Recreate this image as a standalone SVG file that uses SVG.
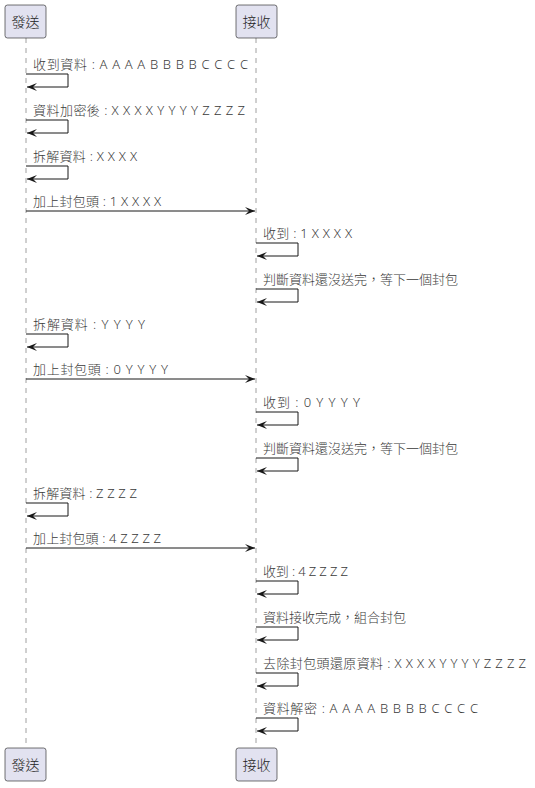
<svg xmlns="http://www.w3.org/2000/svg" width="535" height="788" viewBox="0 0 535 788">
  <style>
    .bg { fill: #FFFFFF; }
    .life { stroke: #A0A0A0; stroke-width: 1; stroke-dasharray: 5,5; fill: none; }
    .box { fill: #E2E2F0; stroke: #181818; stroke-width: 0.6; }
    .pname { font-family: "Noto Sans", "Noto Sans CJK TC", sans-serif; font-size: 14px; font-weight: 300; fill: #222; text-anchor: middle; }
    .msg { stroke: #181818; stroke-width: 1; fill: none; marker-end: url(#arrowhead); }
    .lbl { font-family: "Noto Sans", "Noto Sans CJK TC", sans-serif; font-size: 13px; font-weight: 300; fill: #3a3a3a; }
  </style>
  <defs>
    <marker id="arrowhead" markerUnits="userSpaceOnUse" markerWidth="10" markerHeight="8" refX="10" refY="4" orient="auto">
      <path d="M0,0 L10,4 L0,8 L4,4 Z" fill="#181818"/>
    </marker>
  </defs>
  <rect class="bg" x="0" y="0" width="535" height="788"/>

  <!-- lifelines -->
  <g id="lifelines">
    <line class="life" x1="26" y1="38" x2="26" y2="748"/>
    <line class="life" x1="256" y1="38" x2="256" y2="748"/>
  </g>

  <!-- participants -->
  <g id="sender-top">
    <rect class="box" x="5" y="5" width="41" height="33" rx="2.5"/>
    <text class="pname" x="25.5" y="27" lang="zh-Hant-TW">發送</text>
  </g>
  <g id="receiver-top">
    <rect class="box" x="236" y="5" width="41" height="33" rx="2.5"/>
    <text class="pname" x="256.5" y="27" lang="zh-Hant-TW">接收</text>
  </g>
  <g id="sender-bottom">
    <rect class="box" x="5" y="748" width="41" height="33" rx="2.5"/>
    <text class="pname" x="25.5" y="770" lang="zh-Hant-TW">發送</text>
  </g>
  <g id="receiver-bottom">
    <rect class="box" x="236" y="748" width="41" height="33" rx="2.5"/>
    <text class="pname" x="256.5" y="770" lang="zh-Hant-TW">接收</text>
  </g>

  <!-- messages -->
  <g id="connectors">
    <path class="msg" d="M26,74 H68 V87 H27"/>
    <path class="msg" d="M26,120 H68 V133 H27"/>
    <path class="msg" d="M26,166 H68 V179 H27"/>
    <path class="msg" d="M26,211 H255"/>
    <path class="msg" d="M256,243 H298 V256 H257"/>
    <path class="msg" d="M256,289 H298 V302 H257"/>
    <path class="msg" d="M26,334 H68 V347 H27"/>
    <path class="msg" d="M26,379 H255"/>
    <path class="msg" d="M256,412 H298 V425 H257"/>
    <path class="msg" d="M256,458 H298 V471 H257"/>
    <path class="msg" d="M26,503 H68 V516 H27"/>
    <path class="msg" d="M26,548 H255"/>
    <path class="msg" d="M256,581 H298 V594 H257"/>
    <path class="msg" d="M256,627 H298 V640 H257"/>
    <path class="msg" d="M256,673 H298 V686 H257"/>
    <path class="msg" d="M256,718 H298 V731 H257"/>
  </g>

  <!-- message labels -->
  <g id="labels" lang="zh-Hant-TW">
    <text class="lbl" x="33" y="69" textLength="215" lengthAdjust="spacing">收到資料 : A A A A B B B B C C C C</text>
    <text class="lbl" x="33" y="115" textLength="212" lengthAdjust="spacing">資料加密後 : X X X X Y Y Y Y Z Z Z Z</text>
    <text class="lbl" x="33" y="161" textLength="104" lengthAdjust="spacing">拆解資料 : X X X X</text>
    <text class="lbl" x="33" y="206" textLength="128" lengthAdjust="spacing">加上封包頭 : 1 X X X X</text>
    <text class="lbl" x="263" y="238" textLength="89" lengthAdjust="spacing">收到 : 1 X X X X</text>
    <text class="lbl" x="263" y="284" textLength="195" lengthAdjust="spacing">判斷資料還沒送完，等下一個封包</text>
    <text class="lbl" x="33" y="329" textLength="112" lengthAdjust="spacing">拆解資料 : Y Y Y Y</text>
    <text class="lbl" x="33" y="374" textLength="135" lengthAdjust="spacing">加上封包頭 : 0 Y Y Y Y</text>
    <text class="lbl" x="263" y="407" textLength="97" lengthAdjust="spacing">收到 : 0 Y Y Y Y</text>
    <text class="lbl" x="263" y="453" textLength="195" lengthAdjust="spacing">判斷資料還沒送完，等下一個封包</text>
    <text class="lbl" x="33" y="498" textLength="104" lengthAdjust="spacing">拆解資料 : Z Z Z Z</text>
    <text class="lbl" x="33" y="543" textLength="128" lengthAdjust="spacing">加上封包頭 : 4 Z Z Z Z</text>
    <text class="lbl" x="263" y="576" textLength="85" lengthAdjust="spacing">收到 : 4 Z Z Z Z</text>
    <text class="lbl" x="263" y="622" textLength="143" lengthAdjust="spacing">資料接收完成，組合封包</text>
    <text class="lbl" x="263" y="668" textLength="263" lengthAdjust="spacing">去除封包頭還原資料 : X X X X Y Y Y Y Z Z Z Z</text>
    <text class="lbl" x="263" y="713" textLength="215" lengthAdjust="spacing">資料解密 : A A A A B B B B C C C C</text>
  </g>
</svg>
